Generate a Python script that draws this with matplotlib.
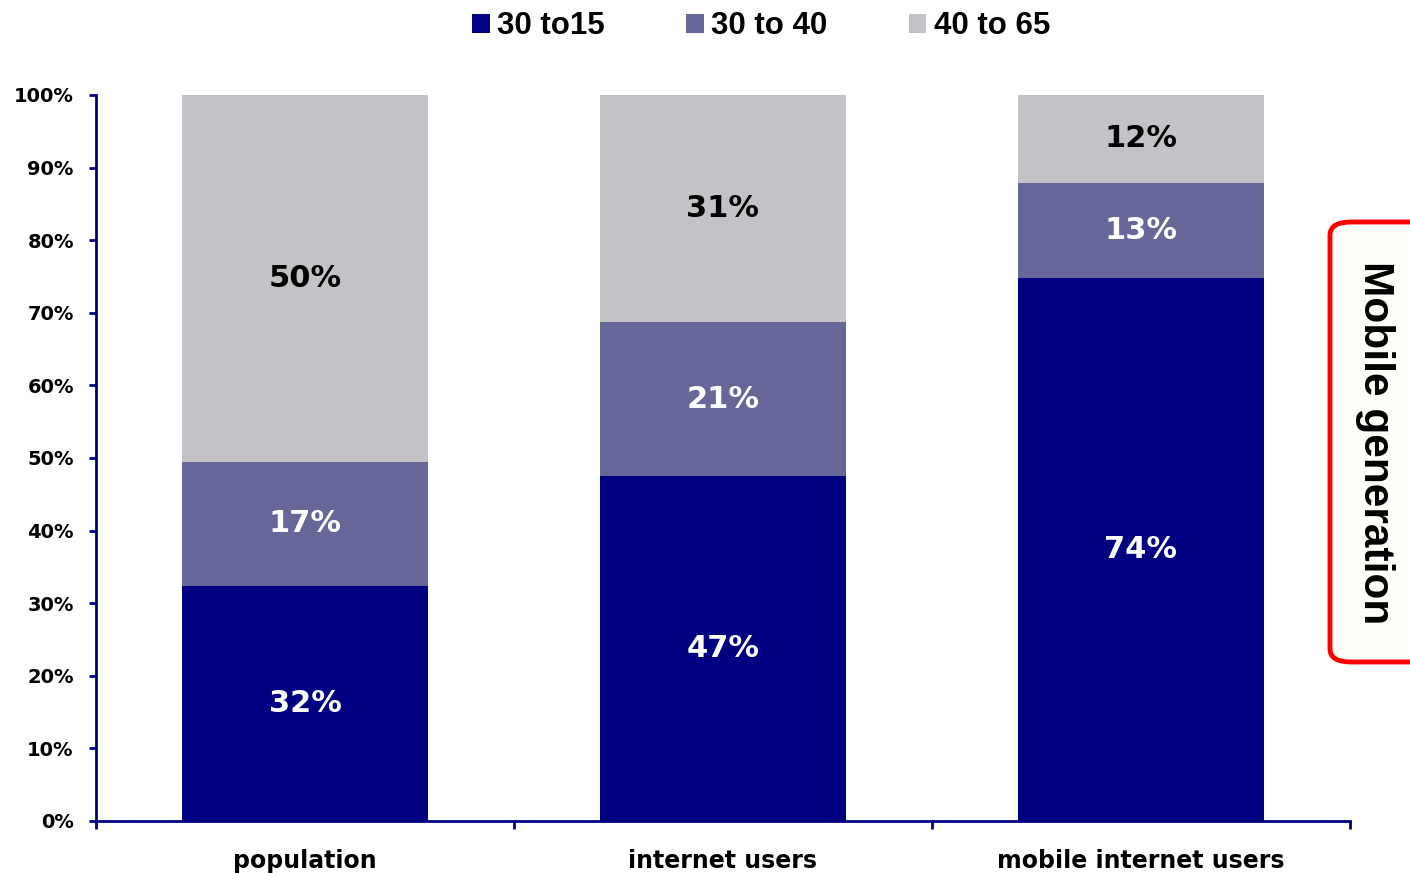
import matplotlib.pyplot as plt
from matplotlib.patches import FancyBboxPatch
import numpy as np

categories = ['population', 'internet users', 'mobile internet users']
series_names = ['30 to15', '30 to 40', '40 to 65']
young = [32, 47, 74]
middle = [17, 21, 13]
older = [50, 31, 12]

colors = ['#000080', '#666699', '#C3C2C7']
label_colors = ['white', 'white', 'black']

fig = plt.figure(figsize=(14.1, 8.73), dpi=100)
ax = fig.add_axes([0.0681, 0.0596, 0.8893, 0.8316])

x = np.arange(len(categories))
values = np.array([young, middle, older], dtype=float)
totals = values.sum(axis=0)
shares = values / totals * 100  # 100% stacked

bottom = np.zeros(len(categories))
for i, name in enumerate(series_names):
    ax.bar(x, shares[i], 0.59, bottom=bottom, color=colors[i], label=name)
    for j in range(len(categories)):
        ax.text(x[j], bottom[j] + shares[i][j] / 2, '%d%%' % values[i][j],
                ha='center', va='center', fontsize=22, fontweight='semibold',
                color=label_colors[i], family='DejaVu Sans')
    bottom += shares[i]

ax.set_xlim(-0.5, 2.5)
ax.set_ylim(0, 100)
ax.set_yticks(range(0, 101, 10))
ax.set_yticklabels(['%d%%' % v for v in range(0, 101, 10)],
                   fontsize=14, fontweight='bold')

# category labels between the boundary ticks
ax.set_xticks(x)
ax.set_xticklabels(categories, fontsize=17, fontweight='bold')
ax.set_xticks([-0.5, 0.5, 1.5, 2.5], minor=True)
ax.tick_params(axis='x', which='major', length=0, pad=20)
ax.tick_params(axis='x', which='minor', length=6, width=2, color='#000080',
               direction='out')
ax.tick_params(axis='y', length=5, width=2, color='#000080', pad=11,
               direction='out')

for s in ['top', 'right']:
    ax.spines[s].set_visible(False)
for s in ['left', 'bottom']:
    ax.spines[s].set_color('#000080')
    ax.spines[s].set_linewidth(2)

fig.legend(loc='center', bbox_to_anchor=(0.54, 0.97), ncol=3, frameon=False,
           prop={'family': 'Liberation Sans', 'size': 22.5, 'weight': 'bold'},
           handlelength=0.55, handleheight=0.55, handletextpad=0.25,
           columnspacing=2.6)

# rounded callout on the right edge
box = FancyBboxPatch((1330 / 1410, 1 - 662 / 873), 0.1, 440 / 873,
                     boxstyle='round,pad=0,rounding_size=0.015',
                     transform=fig.transFigure, facecolor='#FFFFFA',
                     edgecolor='red', linewidth=3.5, clip_on=False)
fig.patches.append(box)
fig.text(1375 / 1410, 1 - 443 / 873, 'Mobile generation', rotation=-90,
         ha='center', va='center', fontsize=30.5, fontweight='bold',
         family='Liberation Sans')

plt.savefig('out.png', dpi=100)
